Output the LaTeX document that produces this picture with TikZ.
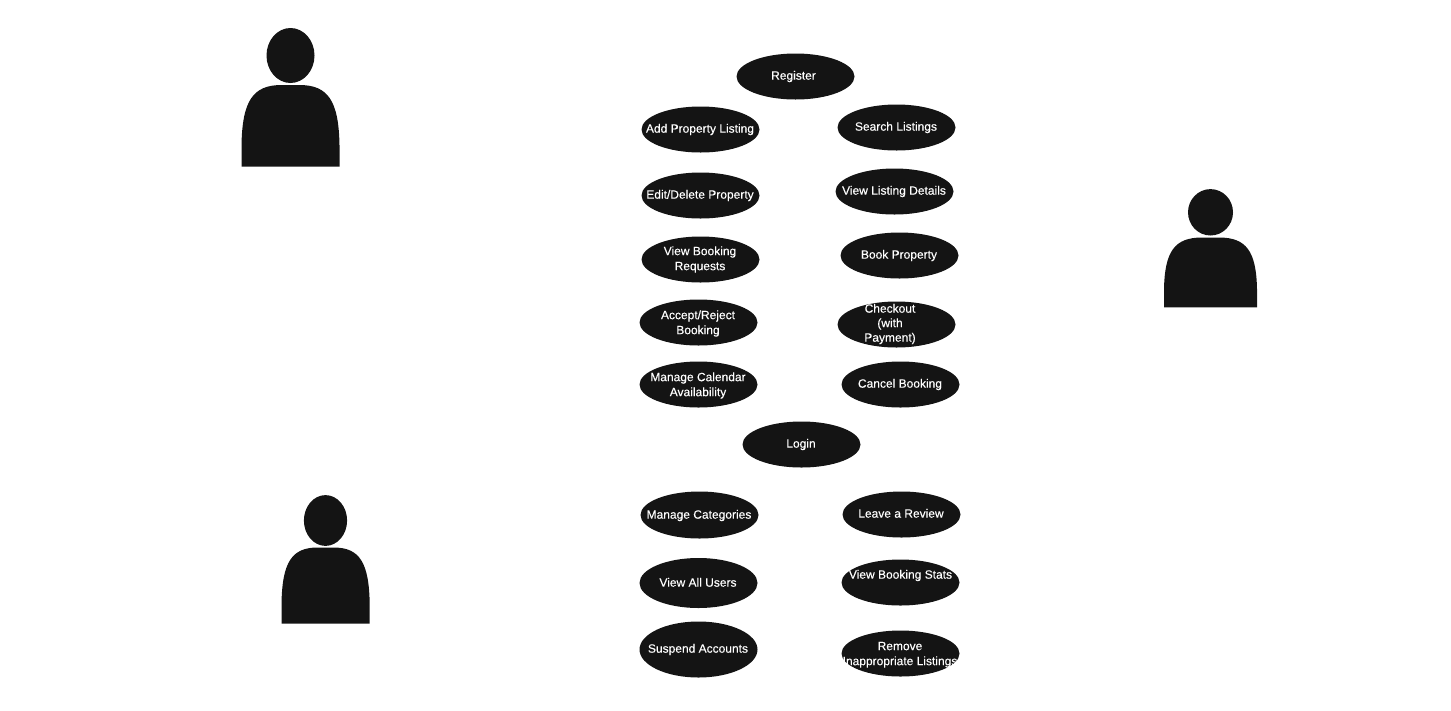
\documentclass[tikz,border=0pt]{standalone}
\usepackage{fontspec}
\setmainfont{Liberation Sans}
\usetikzlibrary{shapes.geometric}
\definecolor{ink}{HTML}{141414}
\tikzset{
  x=1pt,y=-1pt,
  usecase/.style={ellipse,fill=ink,draw=none,inner sep=0pt,outer sep=0pt,minimum width=118pt,minimum height=#1},
  usecase/.default=46pt,
  caption/.style={text=white,align=center,inner sep=0pt,yshift=0.6pt,font=\fontsize{12}{15}\selectfont\addfontfeature{FakeBold=0.25},text height=9pt,text depth=2.5pt},
  actor/.style={fill=ink,draw=none}
}
% \ucase{name}{cx}{cy}{height}{tx}{ty}{text}
\newcommand{\ucase}[7]{%
  \node[usecase=#4] (#1) at (#2,#3) {};
  \node[caption] (#1t) at (#5,#6) {#7};
}
% \person{headcx}{headcy}{rx}{ry}{left}{right}{top}{bottom}
\newcommand{\person}[8]{%
  \fill[actor] (#1,#2) ellipse [x radius=#3,y radius=#4];
  \pgfmathsetmacro{\pw}{#6-#5}
  \pgfmathsetmacro{\ph}{#8-#7}
  \fill[actor] (#5,#8) -- (#5,#7+0.74*\ph)
    .. controls (#5+0.008*\pw,#7+0.195*\ph) and (#5+0.115*\pw,#7) .. (#5+0.41*\pw,#7)
    -- (#5+0.59*\pw,#7)
    .. controls (#6-0.115*\pw,#7) and (#6-0.008*\pw,#7+0.195*\ph) .. (#6,#7+0.74*\ph)
    -- (#6,#8) -- cycle;
}
\begin{document}
\begin{tikzpicture}
\useasboundingbox (0,0) rectangle (1451,710);
\person{290.5}{55.5}{24}{27.5}{241.5}{339.5}{85}{166.5}
\person{1210.5}{212.3}{22.5}{23.2}{1164}{1257}{237.5}{307.3}
\person{325.5}{520.5}{21.6}{25.4}{281.5}{369.7}{547.5}{623.5}
\ucase{reg}{795.5}{76.5}{46pt}{793.5}{77}{Register}
\ucase{add}{700.5}{129.5}{46pt}{700}{130}{Add Property Listing}
\ucase{sea}{896.5}{127.5}{46pt}{896}{128}{Search Listings}
\ucase{edi}{700.5}{195.5}{46pt}{700}{196}{Edit/Delete Property}
\ucase{det}{894.5}{191.5}{46pt}{894}{192}{View Listing Details}
\ucase{req}{700.5}{259.5}{46pt}{700}{267.5}{View Booking\\Requests}
\ucase{boo}{899.5}{255.5}{46pt}{899}{256}{Book Property}
\ucase{acc}{698.5}{322.5}{46pt}{698}{331.5}{Accept/Reject\\Booking}
\ucase{che}{896.5}{324.5}{46pt}{890}{339}{Checkout\\[-0.5pt](with\\[-0.5pt]Payment)}
\ucase{cal}{698.5}{384.5}{46pt}{698}{393.5}{Manage Calendar\\Availability}
\ucase{can}{900.5}{384.5}{46pt}{900}{385}{Cancel Booking}
\ucase{log}{801.5}{444.5}{46pt}{801}{445}{Login}
\ucase{cat}{699.5}{515}{47pt}{699}{516}{Manage Categories}
\ucase{rev}{901.5}{514.5}{46pt}{901}{515}{Leave a Review}
\ucase{usr}{698.5}{583}{50pt}{698}{584}{View All Users}
\ucase{sta}{900.5}{582.5}{46pt}{900.5}{576}{View Booking Stats}
\ucase{sus}{698.5}{649.5}{56pt}{698}{650}{Suspend Accounts}
\ucase{rem}{900.5}{653.5}{46pt}{900}{662.5}{Remove\\Inappropriate Listings}
\end{tikzpicture}
\end{document}
